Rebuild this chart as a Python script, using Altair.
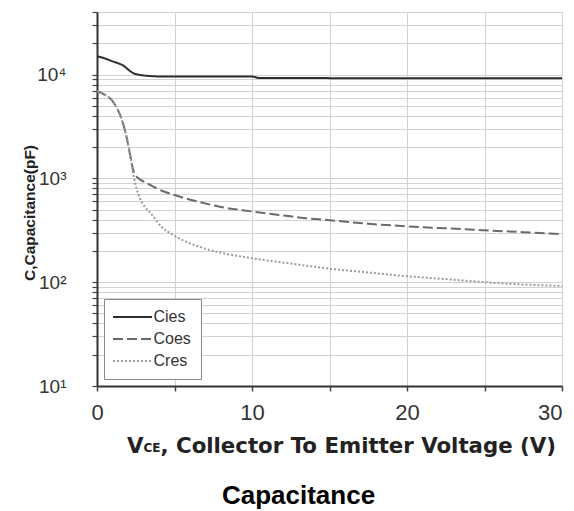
import altair as alt
import pandas as pd

# ---------------- data ----------------
series_names = ["Cies", "Coes", "Cres"]

cies_v = [0, 0.5, 1, 1.5, 1.7, 2, 2.34, 2.7, 3, 3.5, 4, 5, 7, 10, 10.5, 15, 20, 25, 30]
cies_c = [15000, 14300, 13400, 12600, 12200, 11200, 10300, 9950, 9800, 9650, 9580, 9550, 9550, 9550, 9250, 9230, 9230, 9230, 9230]

coes_v = [0, 0.5, 0.84, 1.2, 1.48, 1.7, 1.92, 2.13, 2.34, 2.6, 3.1, 4, 5, 6.65, 8, 10, 12, 13.7, 15, 17.5, 20, 22.5, 25, 27.5, 30]
coes_c = [6900, 6400, 5900, 5000, 4100, 3300, 2450, 1700, 1200, 1020, 920, 780, 690, 590, 530, 480, 440, 410, 395, 365, 345, 330, 316, 303, 290]

cres_v = [0, 0.5, 0.84, 1.2, 1.48, 1.7, 1.92, 2.13, 2.34, 2.55, 2.77, 3.1, 3.42, 4.17, 5, 6.65, 8.15, 10, 12.5, 15, 17.5, 20, 22.5, 25, 27.5, 30]
cres_c = [6900, 6400, 5900, 5000, 4100, 3300, 2450, 1700, 1100, 800, 640, 530, 470, 340, 280, 218, 190, 170, 151, 135, 124, 114, 107, 100, 95, 92]

x_ticks = [0, 5, 10, 15, 20, 25, 30]
x_label_every = 10
y_ticks = [m * d for d in (10, 100, 1000) for m in range(1, 10)] + [10000, 20000, 30000, 40000]
y_major = [10, 100, 1000, 10000]
y_major_labels = ["10\u00b9", "10\u00b2", "10\u00b3", "10\u2074"]

x_title_main = "V"
x_title_sub = "CE"
x_title_rest = ", Collector To Emitter Voltage (V)"
y_title = "C,Capacitance(pF)"
chart_title = "Capacitance"

line_colors = ["#2e2e2e", "#6a6a6a", "#9a9a9a"]
line_dashes = [[1, 0], [10, 4], [2, 2]]
line_widths = [2, 2, 1.6]

rows = []
for name, vs, cs in zip(series_names, [cies_v, coes_v, cres_v], [cies_c, coes_c, cres_c]):
    for v, c in zip(vs, cs):
        rows.append({"series": name, "vce": v, "cap": c})
df = pd.DataFrame(rows)

label_expr = " : ".join(
    f"datum.value == {v} ? '{l}'" for v, l in zip(y_major, y_major_labels)
) + " : ''"

W, H = 465, 374

lines = alt.Chart(df).mark_line(interpolate="monotone", clip=True).encode(
    x=alt.X(
        "vce:Q",
        scale=alt.Scale(domain=[0, 30], nice=False, zero=False),
        axis=alt.Axis(
            values=x_ticks,
            labelExpr=f"datum.value % {x_label_every} == 0 ? datum.label : ''",
            labelAlign={"condition": {"test": "datum.value == 30", "value": "right"}, "value": "center"},
            title=None,
            grid=True,
            gridColor="#d2d2d2",
            gridWidth=1,
            domainColor="#333333",
            domainWidth=2,
            tickColor="#444444",
            tickSize=5,
            tickWidth=1.5,
            labelFont="Liberation Sans",
            labelFontSize=22,
            labelColor="#333333",
            labelPadding=11,
            labelFlush=False,
        ),
    ),
    y=alt.Y(
        "cap:Q",
        scale=alt.Scale(type="log", domain=[10, 40000], nice=False),
        axis=alt.Axis(
            values=y_ticks,
            labelExpr=label_expr,
            title=y_title,
            titleFont="Liberation Sans",
            titleFontSize=15.5,
            titleFontWeight="bold",
            titleColor="#222222",
            titleX=-67.5,
            titleY=200.5,
            titleAngle=270,
            titleAlign="center",
            titleBaseline="middle",
            grid=True,
            gridColor="#d2d2d2",
            gridWidth=1,
            domainColor="#333333",
            domainWidth=2,
            tickColor="#444444",
            tickSize=5,
            tickWidth=1.2,
            labelFont="Liberation Sans",
            labelFontSize=19,
            labelColor="#333333",
            labelPadding=26,
            labelBaseline="middle",
            labelFlush=False,
        ),
    ),
    color=alt.Color(
        "series:N",
        scale=alt.Scale(domain=series_names, range=line_colors),
        legend=alt.Legend(title=None),
    ),
    strokeDash=alt.StrokeDash(
        "series:N",
        scale=alt.Scale(domain=series_names, range=line_dashes),
        legend=alt.Legend(title=None),
    ),
    strokeWidth=alt.StrokeWidth(
        "series:N",
        scale=alt.Scale(domain=series_names, range=line_widths),
        legend=None,
    ),
)

one = pd.DataFrame({"k": [0]})
t_v = alt.Chart(one).mark_text(
    text=x_title_main, font="DejaVu Sans", fontSize=21.3, fontWeight="bold",
    align="left", baseline="alphabetic", color="#222222",
).encode(x=alt.value(30), y=alt.value(441))
t_sub = alt.Chart(one).mark_text(
    text=x_title_sub, font="DejaVu Sans", fontSize=12, fontWeight="bold",
    align="left", baseline="alphabetic", color="#222222",
).encode(x=alt.value(46.5), y=alt.value(440))
t_rest = alt.Chart(one).mark_text(
    text=x_title_rest, font="DejaVu Sans", fontSize=21.3, fontWeight="bold",
    align="left", baseline="alphabetic", color="#222222",
).encode(x=alt.value(63.5), y=alt.value(441))
t_title = alt.Chart(one).mark_text(
    text=chart_title, font="Liberation Sans", fontSize=26, fontWeight="bold",
    align="center", baseline="alphabetic", color="#000000",
).encode(x=alt.value(201.5), y=alt.value(492))

chart = alt.layer(lines, t_v, t_sub, t_rest, t_title).properties(
    width=W,
    height=H,
    autosize=alt.AutoSizeParams(type="none"),
    padding={"left": 89, "top": 4, "right": 4, "bottom": 124},
).configure_view(
    stroke="#555555", strokeWidth=1.5, fill="white"
).configure(background="white").configure_legend(
    orient="none",
    legendX=7,
    legendY=287,
    symbolType="M-3,0H3",
    symbolSize=169,
    symbolStrokeWidth=1.6,
    padding=10,
    rowPadding=6,
    symbolOffset=10.5,
    labelOffset=13,
    labelFont="Liberation Sans",
    labelFontSize=16,
    labelColor="#333333",
    strokeColor="#888888",
    fillColor="white",
    cornerRadius=0,
)

chart.save("out.html", embed_options={"renderer": "svg", "actions": False})
